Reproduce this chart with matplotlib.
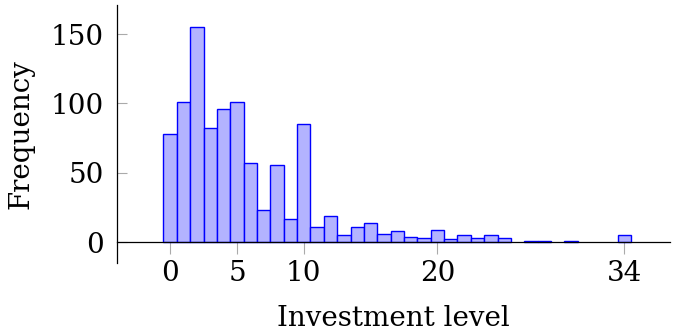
import matplotlib
matplotlib.use("Agg")

import matplotlib.pyplot as plt

# investment level (bin centre) and number of observations
levels = list(range(0, 35))
counts = [78, 101, 155, 82, 96, 101, 57, 23, 56, 17,
          85, 11, 19, 5, 11, 14, 6, 8, 4, 3,
          9, 2, 5, 3, 5, 3, 0, 1, 1, 0,
          1, 0, 0, 0, 5]

x_ticks = [0, 5, 10, 20, 34]
y_ticks = [0, 50, 100, 150]

plt.rcParams["font.family"] = ["DejaVu Serif"]
plt.rcParams["font.size"] = 20

fig = plt.figure(figsize=(6.76, 3.34), dpi=100)
ax = fig.add_axes([0.1726, 0.2126, 0.991 - 0.1726, 0.985 - 0.2126])

# empty bins are not drawn
xs = [x for x, c in zip(levels, counts) if c > 0]
hs = [c for c in counts if c > 0]
ax.bar(xs, hs, width=1.0, color="#b3b3ff", edgecolor="#0000ff", linewidth=1.0, zorder=2)

ax.set_xlim(-4, 37.4)
ax.set_ylim(-15, 171)

ax.spines["top"].set_visible(False)
ax.spines["right"].set_visible(False)
ax.spines["bottom"].set_position(("data", 0))
ax.spines["bottom"].set_zorder(3)
ax.spines["left"].set_linewidth(0.9)
ax.spines["bottom"].set_linewidth(0.9)

ax.set_xticks(x_ticks)
ax.set_yticks(y_ticks)
ax.tick_params(axis="x", direction="out", length=8.5, width=0.8, color="#aaaaaa", pad=4)
ax.tick_params(axis="y", direction="in", length=7, width=0.8, color="#aaaaaa", pad=9)

ax.set_xlabel("Investment level", labelpad=13)
ax.set_ylabel("Frequency", labelpad=12)

fig.savefig("out.png", dpi=100)
